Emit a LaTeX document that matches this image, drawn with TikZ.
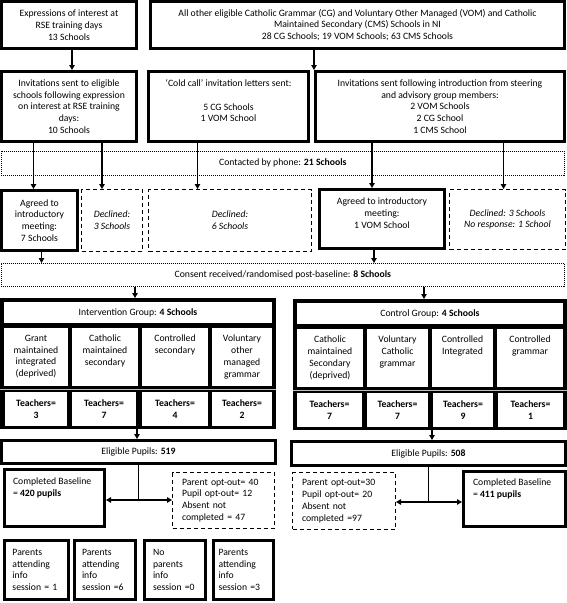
\documentclass[tikz,border=0pt]{standalone}
\usepackage{fontspec}
\setmainfont{Carlito}
\usetikzlibrary{positioning,arrows.meta}
\tikzset{
>={Triangle[length=5pt,width=5.5pt]},
  every node/.style={font=\fontsize{9.7}{11.8}\selectfont},
  bigbox/.style={
    rectangle,
    draw=black, line width=3pt,
    fill=white,
    align=center,
    inner sep=0pt,
    anchor=north west},
  dashbox/.style={
    rectangle,
    draw=black, line width=1.3pt,
    dash pattern=on 4pt off 3pt,
    fill=white,
    align=left,
    inner sep=0pt,
    anchor=north west},
  dotbox/.style={
    rectangle,
    draw=black, line width=0.7pt,
    dash pattern=on 1pt off 1pt,
    inner sep=0pt,
    anchor=north west},
  grpframe/.style={rectangle, fill=black, inner sep=0pt, outer sep=0pt, anchor=north west},
  cell/.style={rectangle, fill=white, inner sep=0pt, outer sep=0pt, anchor=north west, align=center},
  arrline/.style={draw, line width=1.1pt, ->},
  plainline/.style={draw, line width=1.1pt},
  sepline/.style={draw=black!25, line width=0.7pt},
}
\newcommand{\celltxt}[2]{\parbox[c][44pt][t]{#1}{\centering #2}}
\newcommand{\toptxt}[2]{\parbox[c][40pt][t]{#1}{#2}}

\begin{document}
\begin{tikzpicture}[x=1pt, y=-1pt]
  \useasboundingbox (0,0) rectangle (567,603);

  % recruitment
  \node[bigbox, minimum width=135pt, minimum height=47pt] (expr) at (0,0)
    {Expressions of interest at\\RSE training days\\13 Schools};
  \node[bigbox, minimum width=414pt, minimum height=47pt] (allother) at (149,0)
    {All other eligible Catholic Grammar (CG) and Voluntary Other Managed (VOM) and Catholic\\Maintained Secondary (CMS) Schools in NI\\28 CG Schools; 19 VOM Schools; 63 CMS Schools};

  \node[bigbox, minimum width=135pt, minimum height=70pt] (inv) at (0,70)
    {Invitations sent to eligible\\schools following expression\\on interest at RSE training\\days:\\10 Schools};
  \node[bigbox, minimum width=160pt, minimum height=70pt] (cold) at (147,70)
    {‘Cold call’ invitation letters sent:\\\mbox{}\\5 CG Schools\\1 VOM School\\\mbox{}};
  \node[bigbox, minimum width=249pt, minimum height=70pt] (steer) at (314,70)
    {Invitations sent following introduction from steering\\and advisory group members:\\2 VOM Schools\\2 CG School\\1 CMS School};

  \node[dotbox, minimum width=563pt, minimum height=24pt] (phone) at (1,151)
    {Contacted by phone: \textbf{21 Schools}};

  % replies
  \node[bigbox, minimum width=76pt, minimum height=60pt] (agree7) at (0,189)
    {Agreed to\\introductory\\meeting:\\7 Schools};
  \node[dashbox, align=center, minimum width=60.7pt, minimum height=61.7pt] (decl3) at (81,189)
    {\textit{Declined:}\\\textit{3 Schools}};
  \node[dashbox, align=center, minimum width=162.7pt, minimum height=61.7pt] (decl6) at (148,189)
    {\textit{Declined:}\\\textit{6 Schools}};
  \node[bigbox, minimum width=125pt, minimum height=59pt] (agree1) at (318,188)
    {Agreed to introductory\\meeting:\\1 VOM School\\\mbox{}};
  \node[dashbox, align=center, minimum width=115.7pt, minimum height=59.7pt] (declnr) at (449,189)
    {\textit{Declined: 3 Schools}\\\textit{No response: 1 School}};

  \node[dotbox, minimum width=563pt, minimum height=23pt] (consent) at (1,263)
    {Consent received/randomised post-baseline: \textbf{8 Schools}};

  % intervention group
  \node[grpframe, minimum width=276pt, minimum height=131pt] (intgrp) at (0,298) {};
  \node[cell, minimum width=268pt, minimum height=21pt] (inthead) at (4,302)
    {Intervention Group: \textbf{4 Schools}};
  \node[cell, minimum width=64pt, minimum height=58pt] (ic1) at (4,328)
    {\celltxt{60pt}{Grant\\maintained\\integrated\\(deprived)}};
  \node[cell, minimum width=66pt, minimum height=58pt] (ic2) at (72,328)
    {\celltxt{62pt}{Catholic\\maintained\\secondary}};
  \node[cell, minimum width=66pt, minimum height=58pt] (ic3) at (142,328)
    {\celltxt{62pt}{Controlled\\secondary}};
  \node[cell, minimum width=60pt, minimum height=58pt] (ic4) at (212,328)
    {\celltxt{56pt}{Voluntary\\other\\managed\\grammar}};
  \draw[sepline] ([yshift=-3pt]ic1.south -| intgrp.west) -- ([yshift=-3pt]ic4.south -| intgrp.east);
  \node[cell, minimum width=62pt, minimum height=34pt] (it1) at (5,392) {\textbf{Teachers=}\\\textbf{3}};
  \node[cell, minimum width=64pt, minimum height=34pt] (it2) at (72,392) {\textbf{Teachers=}\\\textbf{7}};
  \node[cell, minimum width=66pt, minimum height=34pt] (it3) at (142,392) {\textbf{Teachers=}\\\textbf{4}};
  \node[cell, minimum width=60pt, minimum height=34pt] (it4) at (212,392) {\textbf{Teachers=}\\\textbf{2}};

  % control group
  \node[grpframe, minimum width=274pt, minimum height=131pt] (ctrlgrp) at (293,299) {};
  \node[cell, minimum width=266pt, minimum height=21pt] (ctrlhead) at (297,303)
    {Control Group: \textbf{4 Schools}};
  \node[cell, minimum width=66pt, minimum height=58pt] (cc1) at (297,329)
    {\celltxt{62pt}{Catholic\\maintained\\Secondary\\(deprived)}};
  \node[cell, minimum width=61pt, minimum height=58pt] (cc2) at (367,329)
    {\celltxt{58pt}{Voluntary\\Catholic\\grammar}};
  \node[cell, minimum width=61pt, minimum height=58pt] (cc3) at (432,329)
    {\celltxt{58pt}{Controlled\\Integrated}};
  \node[cell, minimum width=66pt, minimum height=58pt] (cc4) at (497,329)
    {\celltxt{62pt}{Controlled\\grammar}};
  \draw[sepline] ([yshift=-3pt]cc1.south -| ctrlgrp.west) -- ([yshift=-3pt]cc4.south -| ctrlgrp.east);
  \node[cell, minimum width=65pt, minimum height=34pt] (ct1) at (297,393) {\textbf{Teachers=}\\\textbf{7}};
  \node[cell, minimum width=61pt, minimum height=34pt] (ct2) at (367,393) {\textbf{Teachers=}\\\textbf{7}};
  \node[cell, minimum width=60pt, minimum height=34pt] (ct3) at (433,393) {\textbf{Teachers=}\\\textbf{9}};
  \node[cell, minimum width=65pt, minimum height=34pt] (ct4) at (498,393) {\textbf{Teachers=}\\\textbf{1}};

  % pupils
  \node[bigbox, minimum width=274pt, minimum height=23pt] (elig519) at (0,439)
    {Eligible Pupils: \textbf{519}};
  \node[bigbox, minimum width=274pt, minimum height=24pt] (elig508) at (290,440)
    {Eligible Pupils: \textbf{508}};

  \node[bigbox, minimum width=100pt, minimum height=57pt] (comp420) at (3,468)
    {\toptxt{83pt}{Completed Baseline\\= \textbf{420 pupils}}};
  \node[dashbox, text width=83pt, minimum width=101.7pt, minimum height=55.7pt] (out519) at (172,472)
    {Parent opt-out= 40\\Pupil opt-out= 12\\Absent not\\completed = 47};
  \node[dashbox, text width=84pt, minimum width=102.7pt, minimum height=56.7pt] (out508) at (292,472)
    {Parent opt-out=30\\Pupil opt-out= 20\\Absent not\\completed =97};
  \node[bigbox, minimum width=102pt, minimum height=55pt] (comp411) at (462,470)
    {\toptxt{83pt}{Completed Baseline\\= \textbf{411 pupils}}};

  % info sessions
  \node[bigbox, align=left, text width=48pt, minimum width=64pt, minimum height=59pt] (par1) at (3,539)
    {Parents\\attending\\info\\session = 1};
  \node[bigbox, align=left, text width=46pt, minimum width=61pt, minimum height=59pt] (par2) at (73,539)
    {Parents\\attending\\info\\session =6};
  \node[bigbox, align=left, text width=44pt, minimum width=61pt, minimum height=59pt] (par3) at (143,539)
    {No\\parents\\info\\session =0};
  \node[bigbox, align=left, text width=50pt, minimum width=60pt, minimum height=59pt] (par4) at (212,539)
    {Parents\\attending\\info\\session =3};

  % connectors
  \draw[arrline] ([xshift=3pt]expr.south) -- ([xshift=3pt]inv.north);
  \draw[arrline] (allother.south -| steer.west) -- (steer.north west);

  \draw[arrline] ([xshift=-6pt]agree7.north |- inv.south) -- ([xshift=-6pt]agree7.north);
  \draw[arrline] ([xshift=-10pt]decl3.north |- inv.south) -- ([xshift=-10pt]decl3.north);
  \draw[arrline] ([xshift=-31pt]cold.south) -- ([xshift=-31pt]cold.south |- decl6.north);
  \draw[arrline] ([xshift=-10pt]agree1.north |- steer.south) -- ([xshift=-10pt]agree1.north);
  \draw[arrline] ([xshift=-4pt]declnr.north |- steer.south) -- ([xshift=-4pt]declnr.north);

  \draw[arrline] ([xshift=2pt]agree7.south) -- ([xshift=2pt]agree7.south |- consent.north);
  \draw[arrline] ([xshift=-8pt]agree1.south) -- ([xshift=-8pt]agree1.south |- consent.north);

  \draw[arrline] ([xshift=-3pt]intgrp.north |- consent.south) -- ([xshift=-3pt]intgrp.north);
  \draw[arrline] ([xshift=-6pt]ctrlgrp.north |- consent.south) -- ([xshift=-6pt]ctrlgrp.north);

  \draw[arrline] ([xshift=-1pt]intgrp.south) -- ([xshift=-1pt]intgrp.south |- elig519.north);
  \draw[arrline] ([xshift=2pt]ctrlgrp.south) -- ([xshift=2pt]ctrlgrp.south |- elig508.north);

  \coordinate[below=35pt of elig519.south] (split519);
  \draw[plainline] (elig519.south) -- (split519);
  \draw[arrline] (split519) -- (split519 -| comp420.east);
  \draw[arrline] (split519) -- (split519 -| out519.west);

  \coordinate[below=35pt of elig508.south] (split508);
  \draw[plainline] (elig508.south) -- (split508);
  \draw[arrline] (split508) -- (split508 -| out508.east);
  \draw[arrline] (split508) -- (split508 -| comp411.west);
\end{tikzpicture}
\end{document}
